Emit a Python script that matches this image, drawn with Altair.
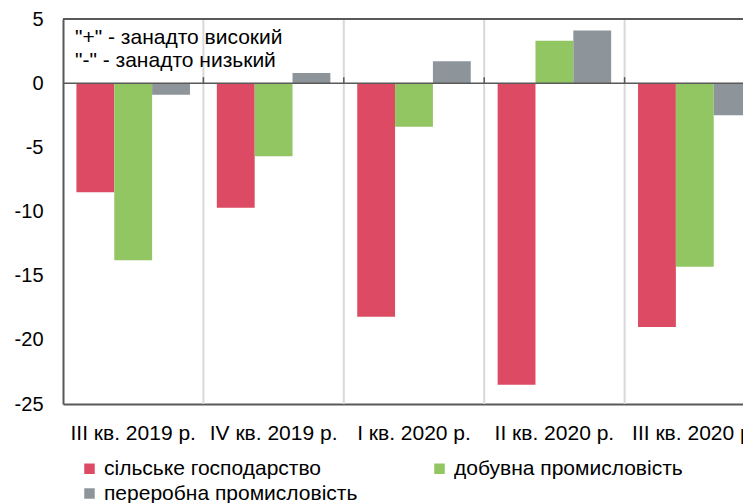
import altair as alt
import pandas as pd

categories = ["III кв. 2019 р.", "IV кв. 2019 р.", "I кв. 2020 р.", "II кв. 2020 р.", "III кв. 2020 р."]
series = ["сільське господарство", "добувна промисловість", "переробна промисловість"]
agriculture = [-8.5, -9.7, -18.2, -23.5, -19.0]
mining = [-13.8, -5.7, -3.4, 3.3, -14.3]
manufacturing = [-0.9, 0.8, 1.7, 4.1, -2.5]
colors = ["#dc4a64", "#92c662", "#8d959b"]
y_ticks = [5, 0, -5, -10, -15, -20, -25]

rows = []
for name, vals in zip(series, [agriculture, mining, manufacturing]):
    for c, v in zip(categories, vals):
        rows.append({"cat": c, "series": name, "value": v})
df = pd.DataFrame(rows)

bounds = pd.DataFrame({"cat": categories[1:], "y0": [0] * 4, "y1": [0.47] * 4})

FONT = "Liberation Sans"
PLOT_W = 680
PLOT_H = 385
FULL_W = 702

xscale = alt.Scale(domain=categories, range=[0, FULL_W], paddingInner=0, paddingOuter=0)
yscale = alt.Scale(domain=[-25, 5], nice=False, zero=False)

xaxis = alt.Axis(title=None, labelAngle=0, labelFontSize=21, labelFont=FONT,
                 labelColor="#000000", ticks=False, domainColor="#595959",
                 domainWidth=2, labelPadding=18, labelLimit=300, bandPosition=0.5,
                 grid=False)

bars = alt.Chart(df).mark_bar(clip=True).encode(
    x=alt.X("cat:N", scale=xscale, sort=categories, axis=xaxis),
    xOffset=alt.XOffset("series:N", sort=series,
                        scale=alt.Scale(domain=series, paddingInner=0, paddingOuter=0.355)),
    y=alt.Y("value:Q", scale=yscale,
            axis=alt.Axis(title=None, values=y_ticks, grid=False, ticks=False,
                          labelFontSize=20, labelFont=FONT, labelColor="#000000",
                          labelExpr="toString(datum.value)",
                          domainColor="#595959", domainWidth=2, labelPadding=20)),
    color=alt.Color("series:N", sort=series,
                    scale=alt.Scale(domain=series, range=colors),
                    legend=alt.Legend(title=None, orient="none", legendX=16, legendY=439,
                                      direction="horizontal", columns=2,
                                      symbolType="square", symbolSize=110,
                                      symbolStrokeWidth=0, labelFontSize=21,
                                      labelFont=FONT, labelColor="#000000",
                                      labelOffset=4, rowPadding=3, columnPadding=71,
                                      padding=0, labelLimit=400)),
)

grid = alt.Chart(bounds).mark_rule(color="#d9d9d9", strokeWidth=2).encode(
    x=alt.X("cat:N", scale=xscale, sort=categories, bandPosition=0, axis=xaxis),
    y=alt.value(0),
    y2=alt.value(PLOT_H),
)

ticks = alt.Chart(bounds).mark_rule(color="#595959", strokeWidth=1.5).encode(
    x=alt.X("cat:N", scale=xscale, sort=categories, bandPosition=0, axis=xaxis),
    y=alt.Y("y0:Q", scale=yscale),
    y2="y1:Q",
)

zero = alt.Chart(pd.DataFrame({"v": [0]})).mark_rule(color="#595959", strokeWidth=1.5).encode(
    y=alt.Y("v:Q", scale=yscale),
    x=alt.value(0),
    x2=alt.value(FULL_W),
)

top = alt.Chart(pd.DataFrame({"v": [0]})).mark_rule(color="#595959", strokeWidth=2).encode(
    y=alt.value(0),
    x=alt.value(0),
    x2=alt.value(FULL_W),
)

notes = alt.Chart(pd.DataFrame({
    "t": ['"+" - занадто високий', '"-" - занадто низький'],
    "py": [19, 42],
})).mark_text(align="left", baseline="middle", fontSize=21, font=FONT, color="#000000").encode(
    text="t:N",
    x=alt.value(12),
    y=alt.Y("py:Q", scale=None),
)

chart = alt.layer(bars, grid, zero, ticks, top, notes).properties(
    width=PLOT_W,
    height=PLOT_H,
    autosize=alt.AutoSizeParams(type="none"),
    padding={"left": 55, "top": 11, "right": 0, "bottom": 100},
).configure_view(stroke=None)

chart.save("out.html", embed_options={"renderer": "svg", "actions": False})
